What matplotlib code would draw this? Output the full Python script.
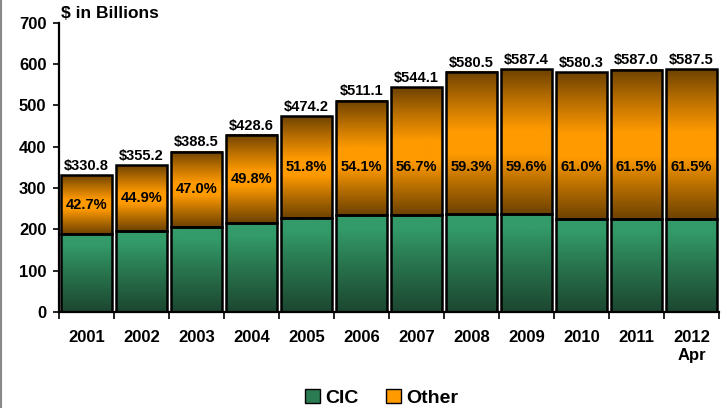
import numpy as np
import matplotlib.pyplot as plt
from matplotlib.colors import LinearSegmentedColormap
from matplotlib.patches import Rectangle
from matplotlib.lines import Line2D

plt.rcParams['font.family'] = ['Liberation Sans', 'DejaVu Sans']
plt.rcParams['font.weight'] = 'bold'

years = ['2001', '2002', '2003', '2004', '2005', '2006', '2007', '2008',
         '2009', '2010', '2011', '2012\nApr']
totals = [330.8, 355.2, 388.5, 428.6, 474.2, 511.1, 544.1, 580.5,
          587.4, 580.3, 587.0, 587.5]
other_pct = [42.7, 44.9, 47.0, 49.8, 51.8, 54.1, 56.7, 59.3,
             59.6, 61.0, 61.5, 61.5]

totals = np.array(totals)
other = totals * np.array(other_pct) / 100
cic = totals - other

green_cmap = LinearSegmentedColormap.from_list(
    'grn', [(0, '#1c4630'), (0.55, '#2a7a52'), (0.85, '#339a69'), (1, '#349a6a')])
orange_cmap = LinearSegmentedColormap.from_list(
    'org', [(0, '#6e4200'), (0.2, '#b06a00'), (0.42, '#ff9a00'),
            (0.58, '#ff9a00'), (0.8, '#b86e00'), (1, '#6e4200')])

fig = plt.figure(figsize=(7.27, 4.08), dpi=100)
ax = fig.add_axes([0.081, 0.235, 0.908, 0.709])

grad = np.linspace(0, 1, 256).reshape(-1, 1)
w = 0.93
x = np.arange(len(years))


def grad_bar(xc, y0, h, cmap):
    ax.imshow(grad, extent=[xc - w / 2, xc + w / 2, y0, y0 + h],
              origin='lower', aspect='auto', cmap=cmap, zorder=1)
    ax.add_patch(Rectangle((xc - w / 2, y0), w, h, fill=False,
                           edgecolor='black', linewidth=1.8, zorder=2))


for i in x:
    grad_bar(i, 0, cic[i], green_cmap)
    grad_bar(i, cic[i], other[i], orange_cmap)
    ax.text(i, totals[i] + 6, f'${totals[i]:.1f}', ha='center', va='bottom',
            fontsize=10.5, fontweight='bold')
    mid = min(cic[i] + other[i] / 2, 350)
    ax.text(i, mid, f'{other_pct[i]:.1f}%', ha='center', va='center',
            fontsize=10.5, fontweight='bold')

ax.set_xlim(-0.5, len(years) - 0.5)
ax.set_ylim(0, 700)
ax.set_yticks(range(0, 701, 100))
ax.tick_params(axis='y', labelsize=12, length=4, width=1.2, pad=5)
ax.set_xticks(x)
ax.set_xticklabels(years, fontsize=12, fontweight='bold')
ax.tick_params(axis='x', length=0, pad=13)
ax.set_xticks(np.arange(-0.5, len(years)), minor=True)
ax.tick_params(axis='x', which='minor', length=5, width=1.2)
for lab in ax.get_yticklabels():
    lab.set_fontweight('bold')
for s in ['top', 'right']:
    ax.spines[s].set_visible(False)
ax.spines['left'].set_linewidth(1.6)
ax.spines['bottom'].set_linewidth(1.6)

fig.text(0.084, 0.968, '$ in Billions', fontsize=12.5, fontweight='bold',
         va='center', ha='left')

# legend swatches in the two series colours
handles = [Rectangle((0, 0), 1, 1, facecolor='#2a7a52', edgecolor='black'),
           Rectangle((0, 0), 1, 1, facecolor='#ff9a00', edgecolor='black')]
fig.legend(handles, ['CIC', 'Other'], loc='center', bbox_to_anchor=(0.525, 0.025),
           ncol=2, frameon=False, handlelength=0.75,
           handleheight=0.75, handletextpad=0.3, columnspacing=1.4,
           prop={'weight': 'bold', 'size': 14})

fig.add_artist(Line2D([0.001, 0.001], [0, 1], color='#888888', linewidth=1.5,
                      transform=fig.transFigure))

fig.savefig('out.png', dpi=100)
